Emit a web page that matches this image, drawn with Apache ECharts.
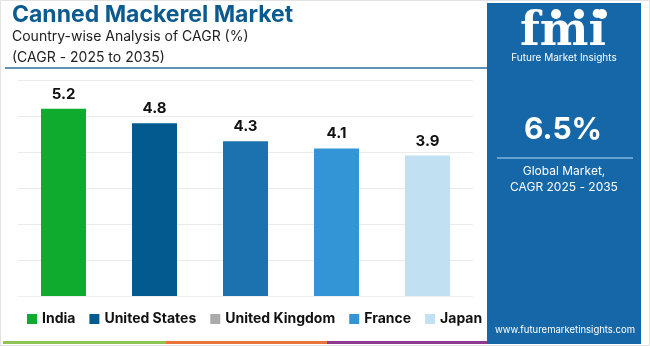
<!DOCTYPE html>
<html><head><meta charset="utf-8">
<script src="https://cdn.jsdelivr.net/npm/echarts@6/dist/echarts.min.js"></script>
<style>html,body{margin:0;padding:0;background:#fff}#c{width:650px;height:346px}</style>
</head><body><div id="c"></div>
<script>
const categories = ['India', 'United States', 'United Kingdom', 'France', 'Japan'];
const values = [5.2, 4.8, 4.3, 4.1, 3.9];
const barColors = ['#0eab2e', '#035a8e', '#1b72ae', '#3395d5', '#c1e0f2'];
const legendColors = ['#0eab2e', '#035a8e', '#aaaaaa', '#3395d5', '#c1e0f2'];
const yTicks = [0, 1, 2, 3, 4, 5, 6];

const chart = echarts.init(document.getElementById('c'));
const series = categories.map((name, i) => ({
  name: name,
  type: 'bar',
  stack: 'all',
  barWidth: 45,
  data: values.map((v, j) => j === i ? v : '-'),
  itemStyle: { color: barColors[i] },
  label: { show: true, position: 'top', distance: 7, color: '#111', fontWeight: 'bold', fontSize: 15, fontFamily: 'Inter' }
}));

chart.setOption({
  animation: false,
  grid: { left: 18, right: 177, top: 80, bottom: 50 },
  xAxis: { type: 'category', data: categories, axisLabel: { show: false }, axisTick: { show: false }, axisLine: { lineStyle: { color: '#eeeeee' } } },
  yAxis: { type: 'value', min: yTicks[0], max: yTicks[yTicks.length - 1], interval: 1, axisLabel: { show: false }, splitLine: { lineStyle: { color: '#ebebeb' } } },
  legend: {
    left: 27, top: 312, padding: 0, itemWidth: 10, itemHeight: 10, itemGap: 14, icon: 'rect',
    textStyle: { fontSize: 14, fontWeight: 'bold', color: '#111', fontFamily: 'Inter', padding: [0, 0, 0, 0] },
    data: categories.map((n, i) => ({ name: n, itemStyle: { color: legendColors[i] } }))
  },
  series: series,
  graphic: [
    { type: 'rect', shape: { x: 0.5, y: 0.5, width: 649, height: 345 }, style: { fill: 'none', stroke: '#e2e2e2', lineWidth: 1 }, z: -1 },
    { type: 'text', left: 12, top: 4, style: { text: 'Canned Mackerel Market', font: 'bold 23px Inter', fill: '#0c5b90' } },
    { type: 'text', left: 12, top: 30, style: { text: 'Country-wise Analysis of CAGR (%)', font: '14px Inter', fill: '#222' } },
    { type: 'text', left: 12, top: 51, style: { text: '(CAGR - 2025 to 2035)', font: '14px Inter', fill: '#222' } },
    { type: 'line', shape: { x1: 5, y1: 68, x2: 490, y2: 68 }, style: { stroke: '#2d6e9c', lineWidth: 1.5 } },
    { type: 'rect', shape: { x: 3, y: 341, width: 163, height: 3 }, style: { fill: '#8dc454' } },
    { type: 'rect', shape: { x: 166, y: 341, width: 161, height: 3 }, style: { fill: '#e8743b' } },
    { type: 'rect', shape: { x: 327, y: 341, width: 163, height: 3 }, style: { fill: '#8e3a8e' } },
    { type: 'rect', shape: { x: 487, y: 3, width: 154, height: 341 }, style: { fill: '#1567a8' } },
    { type: 'text', x: 563, y: 10, style: { text: 'fmi', font: 'bold 46px "DejaVu Serif"', fill: '#ffffff', textAlign: 'center' } },
    { type: 'circle', shape: { cx: 556, cy: 14, r: 5 }, style: { fill: '#ffffff' } },
    { type: 'circle', shape: { cx: 579, cy: 14, r: 5 }, style: { fill: '#ffffff' } },
    { type: 'circle', shape: { cx: 602, cy: 14, r: 5 }, style: { fill: '#ffffff' } },
    { type: 'text', x: 564, y: 53, style: { text: 'Future Market Insights', font: '10px Inter', fill: '#ffffff', textAlign: 'center' } },
    { type: 'text', x: 563, y: 115, style: { text: '6.5%', font: 'bold 30px Inter', fill: '#ffffff', textAlign: 'center' } },
    { type: 'line', shape: { x1: 497, y1: 158, x2: 633, y2: 158 }, style: { stroke: '#7fb6e0', lineWidth: 1.5 } },
    { type: 'text', x: 564, y: 165, style: { text: 'Global Market,', font: '12px Inter', fill: '#ffffff', textAlign: 'center' } },
    { type: 'text', x: 564, y: 181, style: { text: 'CAGR 2025 - 2035', font: '12px Inter', fill: '#ffffff', textAlign: 'center' } },
    { type: 'text', x: 565, y: 325, style: { text: 'www.futuremarketinsights.com', font: '9.5px Inter', fill: '#ffffff', textAlign: 'center' } }
  ]
});
</script></body></html>
